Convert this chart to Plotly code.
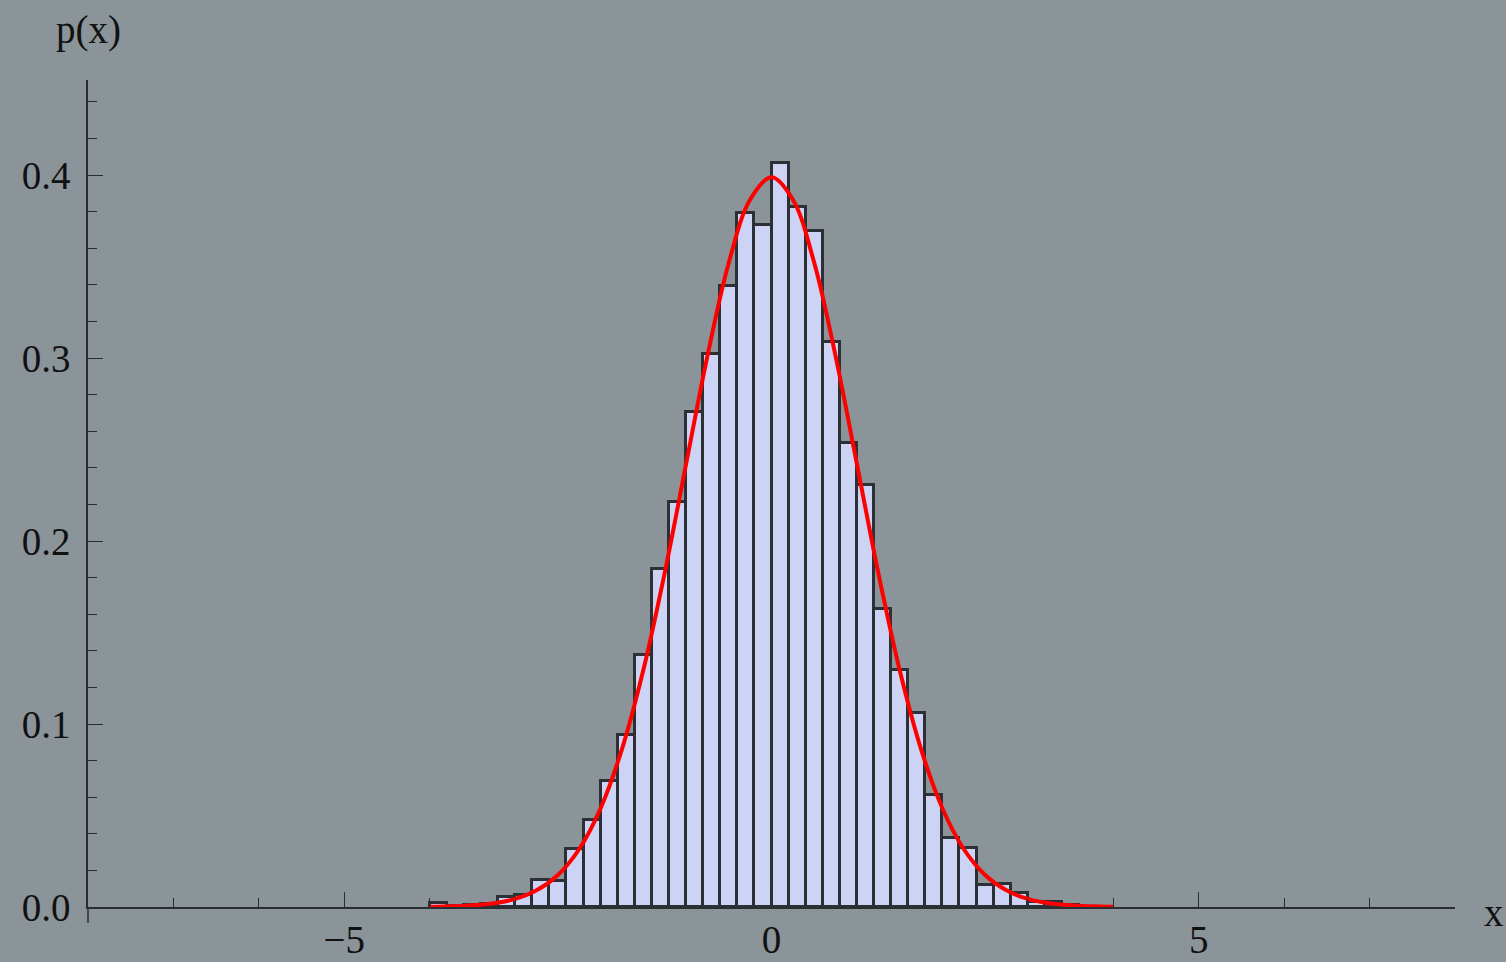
import plotly.graph_objects as go

# Histogram data (bin width 0.2), bin left edges and densities
bin_left = [-4.0, -3.8, -3.6, -3.4, -3.2, -3.0, -2.8, -2.6, -2.4, -2.2,
            -2.0, -1.8, -1.6, -1.4, -1.2, -1.0, -0.8, -0.6, -0.4, -0.2,
            0.0, 0.2, 0.4, 0.6, 0.8, 1.0, 1.2, 1.4, 1.6, 1.8,
            2.0, 2.2, 2.4, 2.6, 2.8, 3.0, 3.2, 3.4]
density = [0.0020, 0.0005, 0.0010, 0.0015, 0.0053, 0.0066, 0.0148, 0.0142, 0.0315, 0.0475,
           0.0690, 0.0940, 0.1377, 0.1847, 0.2211, 0.2707, 0.3025, 0.3393, 0.3794, 0.3727,
           0.4064, 0.3827, 0.3694, 0.3089, 0.2535, 0.2306, 0.1627, 0.1293, 0.1058, 0.0612,
           0.0379, 0.0321, 0.0122, 0.0125, 0.0077, 0.0029, 0.0029, 0.0010]
bin_width = 0.2

# Red reference curve p(x), sampled points
curve_x = [-4.0, -3.75, -3.5, -3.25, -3.0, -2.75, -2.5, -2.25, -2.0, -1.75, -1.5, -1.25,
           -1.0, -0.75, -0.5, -0.25, 0.0, 0.25, 0.5, 0.75, 1.0, 1.25, 1.5, 1.75,
           2.0, 2.25, 2.5, 2.75, 3.0, 3.25, 3.5, 3.75, 4.0]
curve_y = [0.0001, 0.0004, 0.0009, 0.0020, 0.0044, 0.0091, 0.0175, 0.0317, 0.0540, 0.0863, 0.1295, 0.1826,
           0.2420, 0.3011, 0.3521, 0.3867, 0.3989, 0.3867, 0.3521, 0.3011, 0.2420, 0.1826, 0.1295, 0.0863,
           0.0540, 0.0317, 0.0175, 0.0091, 0.0044, 0.0020, 0.0009, 0.0004, 0.0001]

x_ticks = [-5, 0, 5]
y_ticks = [0.0, 0.1, 0.2, 0.3, 0.4]

bar_x = [b + bin_width / 2 for b in bin_left]

BG = "#8b9499"
FONT = dict(family="Liberation Serif, Times New Roman, serif", size=39, color="#111111")
AX = "#2b2e31"

fig = go.Figure()
fig.add_trace(go.Bar(
    x=bar_x, y=density, width=bin_width,
    marker=dict(color="#cdd3f5", line=dict(color="#2c3034", width=3)),
    showlegend=False, hoverinfo="skip"))
fig.add_trace(go.Scatter(
    x=curve_x, y=curve_y, mode="lines", line=dict(color="#ff0000", width=4, shape="spline"),
    showlegend=False, hoverinfo="skip"))

fig.update_layout(
    width=1506, height=962,
    margin=dict(l=88, r=51, t=80, b=55),
    paper_bgcolor=BG, plot_bgcolor=BG,
    font=FONT, bargap=0,
    xaxis=dict(range=[-8, 8], tickvals=x_ticks, ticks="inside", ticklen=15, tickwidth=1.3,
               tickcolor=AX, showline=True, linecolor=AX, linewidth=1.5, showgrid=False,
               zeroline=False, ticklabelstandoff=-3, automargin=False,
               minor=dict(dtick=1, ticks="inside", ticklen=9, tickcolor=AX, tickwidth=1.2, showgrid=False)),
    yaxis=dict(range=[0, 0.452], tickvals=y_ticks, tickformat=".1f", ticks="inside", ticklen=15,
               tickwidth=1.3, tickcolor=AX, showline=True, linecolor=AX, linewidth=1.5,
               showgrid=False, zeroline=False, ticklabelstandoff=8, automargin=False,
               minor=dict(dtick=0.02, tick0=0, ticks="inside", ticklen=9, tickcolor=AX, tickwidth=1.2, showgrid=False)),
    annotations=[
        dict(text="p(x)", xref="paper", yref="paper", x=0, y=1 + 50 / 827, xanchor="center",
             yanchor="middle", showarrow=False, font=FONT),
        dict(text="x", xref="paper", yref="paper", x=(1482 - 88) / 1367, y=-6 / 827, xanchor="left",
             yanchor="middle", showarrow=False, font=FONT),
    ],
    shapes=[dict(type="line", xref="paper", yref="paper", x0=0, x1=0, y0=0, y1=-16 / 827,
                 line=dict(color=AX, width=1.5))],
)

fig.write_html("out.html")
